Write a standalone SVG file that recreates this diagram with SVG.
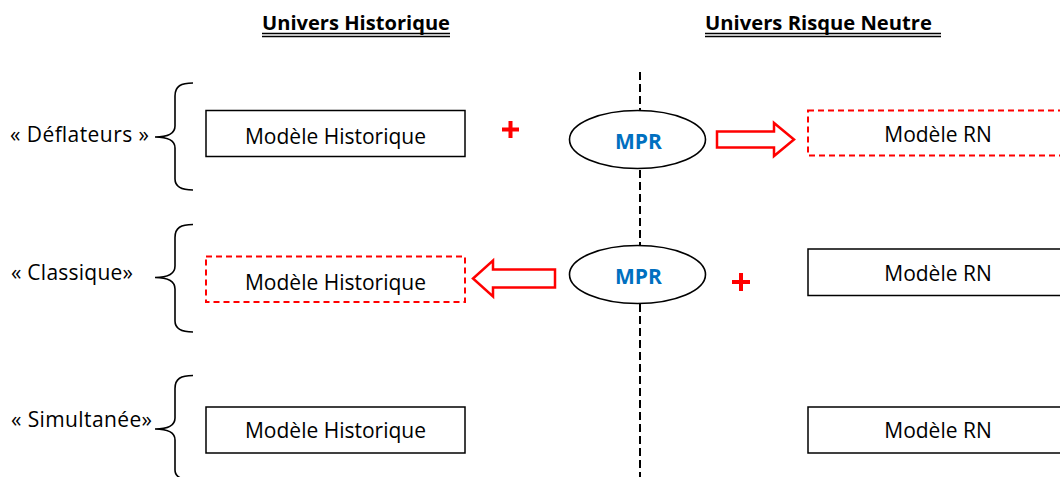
<svg xmlns="http://www.w3.org/2000/svg" width="1060" height="477" viewBox="0 0 1060 477">
  <style>
    .txt { font-family: "Open Sans", "Liberation Sans", sans-serif; font-size: 21px; fill: #000; }
    .head { font-family: "Open Sans", "Liberation Sans", sans-serif; font-size: 19px; font-weight: bold; fill: #000; }
    .mpr { font-family: "Open Sans", "Liberation Sans", sans-serif; font-size: 21px; font-weight: bold; fill: #0070C0; }
    .box { fill: #fff; stroke: #000; stroke-width: 1.5; }
    .dbox { fill: #fff; stroke: #FF0000; stroke-width: 2; stroke-dasharray: 6 4; }
    .brace { fill: none; stroke: #000; stroke-width: 1.6; }
    .ell { fill: #fff; stroke: #000; stroke-width: 1.6; }
    .plus { stroke: #FF0000; stroke-width: 4; fill: none; }
    .arrow { fill: #fff; stroke: #FF0000; stroke-width: 2.5; stroke-linejoin: miter; }
    .sep { stroke: #000; stroke-width: 2; stroke-dasharray: 8 4; fill: none; }
    .ul { stroke: #000; stroke-width: 1.4; }
  </style>

  <!-- column headings with double underline -->
  <g id="heading-historique">
    <text class="head" x="262" y="29.5" textLength="188" lengthAdjust="spacingAndGlyphs">Univers Historique</text>
    <line class="ul" x1="262" y1="33.5" x2="450" y2="33.5"/>
    <line class="ul" x1="262" y1="36.5" x2="450" y2="36.5"/>
  </g>
  <g id="heading-risque-neutre">
    <text class="head" x="705" y="29.5" textLength="227" lengthAdjust="spacingAndGlyphs">Univers Risque Neutre</text>
    <line class="ul" x1="705" y1="33.5" x2="941" y2="33.5"/>
    <line class="ul" x1="705" y1="36.5" x2="941" y2="36.5"/>
  </g>

  <!-- separator between the two universes -->
  <g id="connectors">
    <line class="sep" x1="640" y1="72" x2="640" y2="110"/>
    <line class="sep" x1="640" y1="170" x2="640" y2="245"/>
    <line class="sep" x1="640" y1="304" x2="640" y2="477"/>
    <!-- block arrows -->
    <polygon class="arrow" points="717,131.5 774,131.5 774,123 794,139.5 774,156 774,147.5 717,147.5"/>
    <polygon class="arrow" points="555,269.5 493,269.5 493,260.5 473,278.5 493,296.5 493,287.5 555,287.5"/>
  </g>

  <!-- row labels with braces -->
  <g id="label-deflateurs">
    <text class="txt" x="10" y="142" textLength="139">« Déflateurs »</text>
    <path class="brace" d="M193,83 C181,83 175,86 175,96 L175,126 C175,133 169,137 155,137 C169,137 175,141 175,148 L175,179 C175,187 181,190 193,190"/>
  </g>
  <g id="label-classique">
    <text class="txt" x="11" y="280" textLength="122">« Classique»</text>
    <path class="brace" d="M193,224.5 C181,224.5 175,227.5 175,237.5 L175,266 C175,273 169,277.5 155,277.5 C169,277.5 175,282 175,289 L175,321 C175,329 181,332 193,332"/>
  </g>
  <g id="label-simultanee">
    <text class="txt" x="11" y="427" textLength="141">« Simultanée»</text>
    <path class="brace" d="M193,375.5 C181,375.5 175,378.5 175,388.5 L175,418 C175,425 169,429 155,429 C169,429 175,433 175,440 L175,470 C175,477 181,480 193,480"/>
  </g>

  <!-- row 1 : déflateurs -->
  <g id="hist-1">
    <rect class="box" x="206" y="110.5" width="259" height="46"/>
    <text class="txt" x="335.5" y="144" text-anchor="middle">Modèle Historique</text>
  </g>
  <g id="plus-1">
    <path class="plus" d="M502,129.5 H519 M510.5,121 V138"/>
  </g>
  <g id="mpr-1">
    <ellipse class="ell" cx="637.5" cy="139.5" rx="68" ry="29"/>
    <text class="mpr" x="638.5" y="149" text-anchor="middle">MPR</text>
  </g>
  <g id="rn-1">
    <rect class="dbox" x="808" y="110.5" width="256" height="45"/>
    <text class="txt" x="938" y="142" text-anchor="middle">Modèle RN</text>
  </g>

  <!-- row 2 : classique -->
  <g id="hist-2">
    <rect class="dbox" x="206" y="256.5" width="259" height="45.5"/>
    <text class="txt" x="335.5" y="289.5" text-anchor="middle">Modèle Historique</text>
  </g>
  <g id="mpr-2">
    <ellipse class="ell" cx="637.5" cy="274.5" rx="68" ry="29"/>
    <text class="mpr" x="638.5" y="284" text-anchor="middle">MPR</text>
  </g>
  <g id="plus-2">
    <path class="plus" d="M732,282 H750 M741,273 V291"/>
  </g>
  <g id="rn-2">
    <rect class="box" x="808" y="249" width="256" height="46.5"/>
    <text class="txt" x="938" y="280.5" text-anchor="middle">Modèle RN</text>
  </g>

  <!-- row 3 : simultanée -->
  <g id="hist-3">
    <rect class="box" x="206" y="407" width="259" height="46"/>
    <text class="txt" x="335.5" y="438" text-anchor="middle">Modèle Historique</text>
  </g>
  <g id="rn-3">
    <rect class="box" x="808" y="407" width="256" height="46"/>
    <text class="txt" x="938" y="438" text-anchor="middle">Modèle RN</text>
  </g>
</svg>
